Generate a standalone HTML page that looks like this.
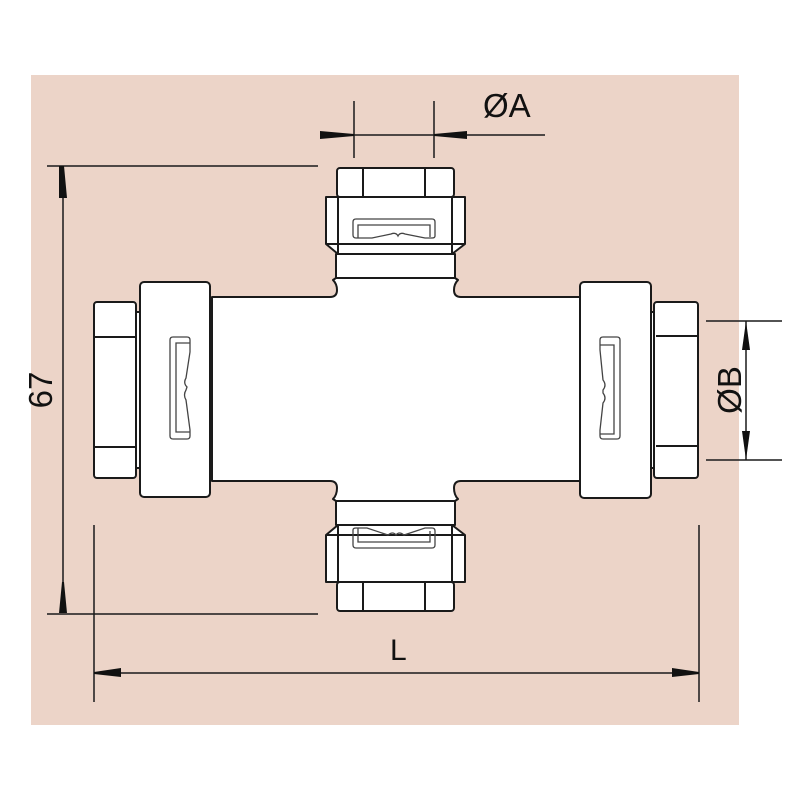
<!DOCTYPE html>
<html><head><style>body{margin:0;background:#fff}svg{display:block}</style></head>
<body>
<svg width="800" height="800" viewBox="0 0 800 800" xmlns="http://www.w3.org/2000/svg" font-family="Liberation Sans, sans-serif">
<rect x="31" y="75" width="708" height="650" fill="#ecd4c8"/>
<g stroke="#1a1a1a" stroke-width="2" fill="#fff" stroke-linejoin="round">
<!-- body -->
<path d="M212 297 H330 Q337 297 337 290 Q337 284 333 280 L336 278 H455 L458 280 Q454 284 454 290 Q454 297 461 297 H580 V481 H461 Q454 481 454 488 Q454 495 458 499 L455 501 H336 L333 499 Q337 495 337 488 Q337 481 330 481 H212 Z"/>
<!-- top branch -->
<rect x="336" y="254" width="119" height="24"/>
<path d="M326 197 H465 V244 L452 254 H338 L326 244 Z"/>
<line x1="338" y1="197" x2="338" y2="254"/><line x1="452" y1="197" x2="452" y2="254"/><line x1="326" y1="244" x2="465" y2="244"/>
<rect x="337" y="168" width="117" height="29" rx="3"/>
<line x1="363" y1="168" x2="363" y2="197"/><line x1="425" y1="168" x2="425" y2="197"/>
<!-- bottom branch -->
<rect x="336" y="501" width="119" height="24"/>
<path d="M326 582 H465 V535 L452 525 H338 L326 535 Z"/>
<line x1="338" y1="525" x2="338" y2="582"/><line x1="452" y1="525" x2="452" y2="582"/><line x1="326" y1="535" x2="465" y2="535"/>
<rect x="337" y="582" width="117" height="29" rx="3"/>
<line x1="363" y1="582" x2="363" y2="611"/><line x1="425" y1="582" x2="425" y2="611"/>
<!-- left -->
<rect x="134" y="312" width="8" height="156"/>
<rect x="94" y="302" width="42" height="176" rx="3"/>
<line x1="94" y1="337" x2="136" y2="337"/><line x1="94" y1="447" x2="136" y2="447"/>
<rect x="140" y="282" width="70" height="215" rx="4"/>
<!-- right -->
<rect x="650" y="312" width="8" height="156"/>
<rect x="654" y="302" width="44" height="176" rx="3"/>
<line x1="656" y1="336" x2="698" y2="336"/><line x1="656" y1="446" x2="698" y2="446"/>
<rect x="580" y="282" width="71" height="216" rx="4"/>
</g>
<!-- clips -->
<g stroke="#444" stroke-width="1.3" fill="none">
<path d="M353 222 Q353 219 356 219 H432 Q435 219 435 222 V236 Q435 238 432 238 H425 L405 234 Q400 232 398 236 Q396 232 391 234 L372 238 H356 Q353 238 353 235 Z"/>
<path d="M358 238 V225 H430 V237"/>
<path d="M353 530 Q353 528 356 528 H367 L388 535 Q393 531 396 535 Q399 531 404 535 L425 528 H432 Q435 528 435 531 V545 Q435 548 432 548 H356 Q353 548 353 545 Z"/>
<path d="M358 528 V542 H430 V531"/>
<path d="M170 340 Q170 337 173 337 H187 Q190 337 190 340 V352 L186 378 Q183 383 187 387 L186 390 Q183 395 186 400 L190 430 V436 Q190 439 187 439 H173 Q170 439 170 436 Z"/>
<path d="M190 343 H176 V432 H190"/>
<path d="M617 337 Q620 337 620 340 V436 Q620 439 617 439 H603 Q600 439 600 436 V430 L603 403 Q607 398 603 393 L603 390 Q607 385 603 380 L600 350 V340 Q600 337 603 337 Z"/>
<path d="M600 345 H614 V434 H600"/>
</g>
<!-- dimensions -->
<g stroke="#1a1a1a" stroke-width="1.5" fill="none">
<line x1="354" y1="101" x2="354" y2="158"/><line x1="434" y1="101" x2="434" y2="158"/>
<line x1="320" y1="135" x2="545" y2="135"/>
<line x1="47" y1="166" x2="318" y2="166"/><line x1="47" y1="614" x2="318" y2="614"/>
<line x1="63" y1="166" x2="63" y2="613"/>
<line x1="94" y1="525" x2="94" y2="702"/><line x1="699" y1="525" x2="699" y2="702"/>
<line x1="94" y1="673" x2="699" y2="673"/>
<line x1="706" y1="321" x2="782" y2="321"/><line x1="706" y1="460" x2="782" y2="460"/>
<line x1="746" y1="321" x2="746" y2="460"/>
</g>
<g fill="#111">
<path d="M320 131 L354 134 V136 L320 139 Z"/>
<path d="M467 131 L434 134 V136 L467 139 Z"/>
<path d="M59 166 L62 166 H64 L67 198 H59 Z"/>
<path d="M59 613 H67 L64 582 H62 Z"/>
<path d="M94 672 L121 668 V677 L94 674 Z"/>
<path d="M699 672 L672 668 V677 L699 674 Z"/>
<path d="M742 350 L746 321 L750 350 Z"/>
<path d="M742 431 L746 460 L750 431 Z"/>
</g>
<g fill="#111" font-size="33">
<text x="483" y="117">ØA</text>
<text x="390" y="660" font-size="30">L</text>
<text transform="translate(52 390) rotate(-90)" text-anchor="middle">67</text>
<text transform="translate(741 390) rotate(-90)" text-anchor="middle">ØB</text>
</g>
</svg>
</body></html>
